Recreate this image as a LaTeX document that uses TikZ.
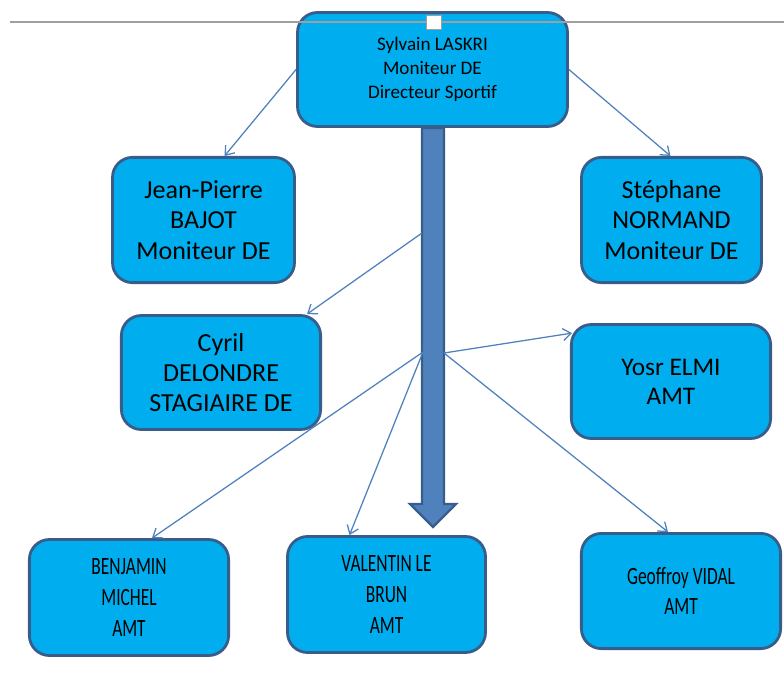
\documentclass[tikz,border=0pt]{standalone}
\usepackage{fontspec}
\setmainfont{Carlito}
\newfontfamily\etroit[FakeStretch=0.7]{Carlito}
\usetikzlibrary{arrows.meta,calc}
\definecolor{boite}{RGB}{0,174,239}
\definecolor{bord}{RGB}{56,93,138}
\definecolor{fleche}{RGB}{79,129,189}
\tikzset{
  membre/.style={draw=bord, fill=boite, line width=2pt, rounded corners=5mm,
    align=center, inner sep=0pt, font=\fontsize{18.5}{21.7}\selectfont},
  amt/.style={membre, font=\etroit\fontsize{17.7}{22}\selectfont},
  lien/.style={draw=fleche, line width=0.9pt, -{Straight Barb[length=2mm,width=3mm]}}
}
\begin{document}
\begin{tikzpicture}[x=0.25mm, y=-0.25mm]
      \useasboundingbox (0, 0) rectangle (784, 674);
      % responsable
      \node[membre, minimum width=67.5mm, minimum height=28.5mm,
        font=\fontsize{13.6}{17}\selectfont] (chef) at (432.5, 69.5)
        {Sylvain LASKRI\\ Moniteur DE\\ Directeur Sportif};
      % fleche centrale
      \draw[fill=fleche, draw=bord, line width=1.6pt, line join=miter]
        (422, 128) -- (444, 128) -- (444, 504) -- (456, 504) -- (433, 527)
        -- (410, 504) -- (422, 504) -- cycle;
      \draw[gray!75, line width=1.4pt] (10, 22) -- (784, 22);
      \draw[gray!75, fill=white, line width=0.5pt] (426, 15) rectangle (441, 29);
      % moniteurs
      \node[membre, minimum width=45.5mm, minimum height=31.3mm] (jp) at (203.5, 220)
        {Jean-Pierre\\ BAJOT\\ Moniteur DE};
      \node[membre, minimum width=45mm, minimum height=31.3mm] (steph) at (671.5, 220)
        {Stéphane\\ NORMAND\\ Moniteur DE};
      \node[membre, minimum width=49.8mm, minimum height=28.5mm,
        font=\fontsize{18.5}{21.3}\selectfont] (cyril) at (221, 372.5)
        {Cyril\\ DELONDRE\\ STAGIAIRE DE};
      \node[membre, minimum width=49.8mm, minimum height=28.5mm,
        font=\fontsize{18}{20.6}\selectfont] (yosr) at (671, 381.5)
        {Yosr ELMI\\ AMT};
      % AMT
      \node[amt, minimum width=49.8mm, minimum height=29mm] (benj) at (129, 597.5)
        {BENJAMIN\\ MICHEL\\ AMT};
      \node[amt, minimum width=49.5mm, minimum height=29mm] (valentin) at (386.5, 594.5)
        {VALENTIN LE\\ BRUN\\ AMT};
      \node[amt, minimum width=49.8mm, minimum height=28.8mm,
        font=\etroit\fontsize{17.7}{21.3}\selectfont] (geoffroy) at (681, 591)
        {Geoffroy VIDAL\\ AMT};
      % departs sur la fleche
      \coordinate (g1) at (422, 233);
      \coordinate (g2) at (423, 352);
      \coordinate (d1) at (444, 353);
      \draw[lien] (chef.west) -- ($(jp.north)+(21, 0)$);
      \draw[lien] (chef.east) -- ($(steph.north)+(-1, 0)$);
      \draw[lien] (g1) -- ($(cyril.north east)+(-15, 0)$);
      \draw[lien] (g2) -- ($(benj.north)+(23, 0)$);
      \draw[lien] (g2) -- ($(valentin.north)+(-37, 0)$);
      \draw[lien] (d1) -- ($(yosr.north west)+(2, 10)$);
      \draw[lien] (d1) -- ($(geoffroy.north)+(-13, 0)$);
\end{tikzpicture}
\end{document}
